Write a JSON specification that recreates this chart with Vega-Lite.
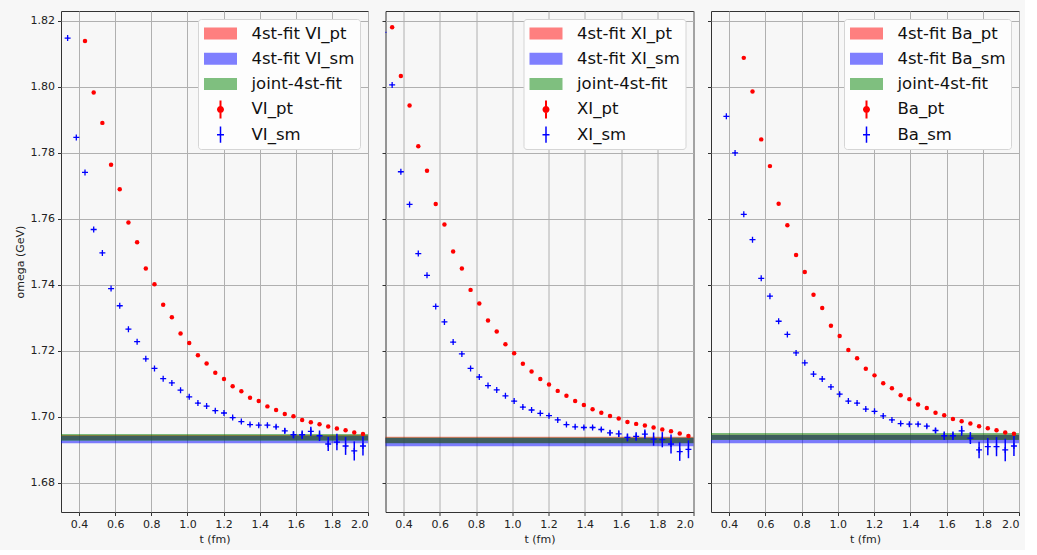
{
"$schema": "https://vega.github.io/schema/vega-lite/v6.json",
"background": "#f7f7f7",
"padding": {"left": 13, "top": 10, "right": 5, "bottom": 5},
"config": {
  "font": "DejaVu Sans",
  "view": {"stroke": "#333333", "strokeWidth": 1, "fill": "#f7f7f7"},
  "axis": {"labelFont": "DejaVu Sans", "labelFontSize": 11, "labelColor": "#222222", "titleFont": "DejaVu Sans", "titleFontSize": 11, "titleFontWeight": "normal", "titleColor": "#222222", "tickColor": "#333333", "tickSize": 3.5, "tickWidth": 1, "gridColor": "#b0b0b0", "gridWidth": 1, "gridOpacity": 1, "domain": false, "labelPadding": 3, "labelOverlap": false},
  "legend": {"labelFont": "DejaVu Sans", "labelFontSize": 16.5, "labelColor": "#111111", "symbolSize": 324, "symbolStrokeWidth": 0, "symbolOpacity": 1, "symbolOffset": 8, "labelOffset": 22, "rowPadding": 7.3, "padding": 5.5, "fillColor": "#fdfdfd", "strokeColor": "#d5d5d5", "cornerRadius": 3, "orient": "top-right", "offset": 8, "labelLimit": 300}
},
"datasets": {
  "bands": [
    {"panel": "VI", "series": "4st-fit VI_pt", "lo": 1.6929, "hi": 1.6944},
    {"panel": "VI", "series": "4st-fit VI_sm", "lo": 1.6919, "hi": 1.6941},
    {"panel": "VI", "series": "joint-4st-fit", "lo": 1.6927, "hi": 1.6947},
    {"panel": "XI", "series": "4st-fit XI_pt", "lo": 1.6920, "hi": 1.6939},
    {"panel": "XI", "series": "4st-fit XI_sm", "lo": 1.6910, "hi": 1.6935},
    {"panel": "XI", "series": "joint-4st-fit", "lo": 1.6919, "hi": 1.6937},
    {"panel": "Ba", "series": "4st-fit Ba_pt", "lo": 1.6930, "hi": 1.6945},
    {"panel": "Ba", "series": "4st-fit Ba_sm", "lo": 1.6919, "hi": 1.6944},
    {"panel": "Ba", "series": "joint-4st-fit", "lo": 1.6929, "hi": 1.6950}
  ],
  "points": [
    {"panel":"VI","series":"VI_pt","t":0.4329,"omega":1.8138,"err":0.0001},
    {"panel":"VI","series":"VI_pt","t":0.4810,"omega":1.7982,"err":0.0001},
    {"panel":"VI","series":"VI_pt","t":0.5291,"omega":1.7890,"err":0.0001},
    {"panel":"VI","series":"VI_pt","t":0.5772,"omega":1.7763,"err":0.0001},
    {"panel":"VI","series":"VI_pt","t":0.6253,"omega":1.7689,"err":0.0001},
    {"panel":"VI","series":"VI_pt","t":0.6734,"omega":1.7588,"err":0.0001},
    {"panel":"VI","series":"VI_pt","t":0.7215,"omega":1.7528,"err":0.0001},
    {"panel":"VI","series":"VI_pt","t":0.7696,"omega":1.7449,"err":0.0001},
    {"panel":"VI","series":"VI_pt","t":0.8177,"omega":1.7401,"err":0.0001},
    {"panel":"VI","series":"VI_pt","t":0.8658,"omega":1.7339,"err":0.0001},
    {"panel":"VI","series":"VI_pt","t":0.9139,"omega":1.7301,"err":0.0001},
    {"panel":"VI","series":"VI_pt","t":0.9620,"omega":1.7252,"err":0.0001},
    {"panel":"VI","series":"VI_pt","t":1.0101,"omega":1.7223,"err":0.0001},
    {"panel":"VI","series":"VI_pt","t":1.0582,"omega":1.7186,"err":0.0001},
    {"panel":"VI","series":"VI_pt","t":1.1063,"omega":1.7161,"err":0.0001},
    {"panel":"VI","series":"VI_pt","t":1.1544,"omega":1.7133,"err":0.0001},
    {"panel":"VI","series":"VI_pt","t":1.2025,"omega":1.7114,"err":0.0001},
    {"panel":"VI","series":"VI_pt","t":1.2506,"omega":1.7092,"err":0.0001},
    {"panel":"VI","series":"VI_pt","t":1.2987,"omega":1.7077,"err":0.0001},
    {"panel":"VI","series":"VI_pt","t":1.3468,"omega":1.7057,"err":0.0001},
    {"panel":"VI","series":"VI_pt","t":1.3949,"omega":1.7047,"err":0.0001},
    {"panel":"VI","series":"VI_pt","t":1.4430,"omega":1.7031,"err":0.0002},
    {"panel":"VI","series":"VI_pt","t":1.4911,"omega":1.7020,"err":0.0002},
    {"panel":"VI","series":"VI_pt","t":1.5392,"omega":1.7008,"err":0.0002},
    {"panel":"VI","series":"VI_pt","t":1.5873,"omega":1.7001,"err":0.0002},
    {"panel":"VI","series":"VI_pt","t":1.6354,"omega":1.6990,"err":0.0002},
    {"panel":"VI","series":"VI_pt","t":1.6835,"omega":1.6983,"err":0.0002},
    {"panel":"VI","series":"VI_pt","t":1.7316,"omega":1.6977,"err":0.0003},
    {"panel":"VI","series":"VI_pt","t":1.7797,"omega":1.6970,"err":0.0003},
    {"panel":"VI","series":"VI_pt","t":1.8278,"omega":1.6964,"err":0.0003},
    {"panel":"VI","series":"VI_pt","t":1.8759,"omega":1.6959,"err":0.0003},
    {"panel":"VI","series":"VI_pt","t":1.9240,"omega":1.6952,"err":0.0003},
    {"panel":"VI","series":"VI_pt","t":1.9721,"omega":1.6947,"err":0.0003},
    {"panel":"VI","series":"VI_sm","t":0.3367,"omega":1.8147,"err":0.0002},
    {"panel":"VI","series":"VI_sm","t":0.3848,"omega":1.7846,"err":0.0002},
    {"panel":"VI","series":"VI_sm","t":0.4329,"omega":1.7740,"err":0.0002},
    {"panel":"VI","series":"VI_sm","t":0.4810,"omega":1.7567,"err":0.0002},
    {"panel":"VI","series":"VI_sm","t":0.5291,"omega":1.7496,"err":0.0002},
    {"panel":"VI","series":"VI_sm","t":0.5772,"omega":1.7388,"err":0.0002},
    {"panel":"VI","series":"VI_sm","t":0.6253,"omega":1.7336,"err":0.0002},
    {"panel":"VI","series":"VI_sm","t":0.6734,"omega":1.7265,"err":0.0002},
    {"panel":"VI","series":"VI_sm","t":0.7215,"omega":1.7227,"err":0.0002},
    {"panel":"VI","series":"VI_sm","t":0.7696,"omega":1.7175,"err":0.0002},
    {"panel":"VI","series":"VI_sm","t":0.8177,"omega":1.7146,"err":0.0002},
    {"panel":"VI","series":"VI_sm","t":0.8658,"omega":1.7115,"err":0.0002},
    {"panel":"VI","series":"VI_sm","t":0.9139,"omega":1.7102,"err":0.0002},
    {"panel":"VI","series":"VI_sm","t":0.9620,"omega":1.7080,"err":0.0002},
    {"panel":"VI","series":"VI_sm","t":1.0101,"omega":1.7060,"err":0.0003},
    {"panel":"VI","series":"VI_sm","t":1.0582,"omega":1.7041,"err":0.0003},
    {"panel":"VI","series":"VI_sm","t":1.1063,"omega":1.7032,"err":0.0003},
    {"panel":"VI","series":"VI_sm","t":1.1544,"omega":1.7018,"err":0.0003},
    {"panel":"VI","series":"VI_sm","t":1.2025,"omega":1.7011,"err":0.0003},
    {"panel":"VI","series":"VI_sm","t":1.2506,"omega":1.6997,"err":0.0003},
    {"panel":"VI","series":"VI_sm","t":1.2987,"omega":1.6985,"err":0.0003},
    {"panel":"VI","series":"VI_sm","t":1.3468,"omega":1.6976,"err":0.0003},
    {"panel":"VI","series":"VI_sm","t":1.3949,"omega":1.6974,"err":0.0004},
    {"panel":"VI","series":"VI_sm","t":1.4430,"omega":1.6974,"err":0.0004},
    {"panel":"VI","series":"VI_sm","t":1.4911,"omega":1.6969,"err":0.0005},
    {"panel":"VI","series":"VI_sm","t":1.5392,"omega":1.6957,"err":0.0008},
    {"panel":"VI","series":"VI_sm","t":1.5873,"omega":1.6945,"err":0.0011},
    {"panel":"VI","series":"VI_sm","t":1.6354,"omega":1.6945,"err":0.0013},
    {"panel":"VI","series":"VI_sm","t":1.6835,"omega":1.6955,"err":0.0014},
    {"panel":"VI","series":"VI_sm","t":1.7316,"omega":1.6942,"err":0.0016},
    {"panel":"VI","series":"VI_sm","t":1.7797,"omega":1.6917,"err":0.0021},
    {"panel":"VI","series":"VI_sm","t":1.8278,"omega":1.6923,"err":0.0025},
    {"panel":"VI","series":"VI_sm","t":1.8759,"omega":1.6911,"err":0.0027},
    {"panel":"VI","series":"VI_sm","t":1.9240,"omega":1.6896,"err":0.0029},
    {"panel":"VI","series":"VI_sm","t":1.9721,"omega":1.6911,"err":0.0029},
    {"panel":"XI","series":"XI_pt","t":0.3367,"omega":1.8180,"err":0.0001},
    {"panel":"XI","series":"XI_pt","t":0.3848,"omega":1.8032,"err":0.0001},
    {"panel":"XI","series":"XI_pt","t":0.4329,"omega":1.7943,"err":0.0001},
    {"panel":"XI","series":"XI_pt","t":0.4810,"omega":1.7819,"err":0.0001},
    {"panel":"XI","series":"XI_pt","t":0.5291,"omega":1.7745,"err":0.0001},
    {"panel":"XI","series":"XI_pt","t":0.5772,"omega":1.7644,"err":0.0001},
    {"panel":"XI","series":"XI_pt","t":0.6253,"omega":1.7582,"err":0.0001},
    {"panel":"XI","series":"XI_pt","t":0.6734,"omega":1.7500,"err":0.0001},
    {"panel":"XI","series":"XI_pt","t":0.7215,"omega":1.7449,"err":0.0001},
    {"panel":"XI","series":"XI_pt","t":0.7696,"omega":1.7384,"err":0.0001},
    {"panel":"XI","series":"XI_pt","t":0.8177,"omega":1.7343,"err":0.0001},
    {"panel":"XI","series":"XI_pt","t":0.8658,"omega":1.7291,"err":0.0001},
    {"panel":"XI","series":"XI_pt","t":0.9139,"omega":1.7258,"err":0.0001},
    {"panel":"XI","series":"XI_pt","t":0.9620,"omega":1.7219,"err":0.0001},
    {"panel":"XI","series":"XI_pt","t":1.0101,"omega":1.7192,"err":0.0001},
    {"panel":"XI","series":"XI_pt","t":1.0582,"omega":1.7160,"err":0.0001},
    {"panel":"XI","series":"XI_pt","t":1.1063,"omega":1.7137,"err":0.0001},
    {"panel":"XI","series":"XI_pt","t":1.1544,"omega":1.7114,"err":0.0001},
    {"panel":"XI","series":"XI_pt","t":1.2025,"omega":1.7097,"err":0.0001},
    {"panel":"XI","series":"XI_pt","t":1.2506,"omega":1.7078,"err":0.0001},
    {"panel":"XI","series":"XI_pt","t":1.2987,"omega":1.7063,"err":0.0001},
    {"panel":"XI","series":"XI_pt","t":1.3468,"omega":1.7047,"err":0.0001},
    {"panel":"XI","series":"XI_pt","t":1.3949,"omega":1.7035,"err":0.0001},
    {"panel":"XI","series":"XI_pt","t":1.4430,"omega":1.7022,"err":0.0002},
    {"panel":"XI","series":"XI_pt","t":1.4911,"omega":1.7012,"err":0.0002},
    {"panel":"XI","series":"XI_pt","t":1.5392,"omega":1.7002,"err":0.0002},
    {"panel":"XI","series":"XI_pt","t":1.5873,"omega":1.6994,"err":0.0002},
    {"panel":"XI","series":"XI_pt","t":1.6354,"omega":1.6984,"err":0.0002},
    {"panel":"XI","series":"XI_pt","t":1.6835,"omega":1.6978,"err":0.0002},
    {"panel":"XI","series":"XI_pt","t":1.7316,"omega":1.6973,"err":0.0003},
    {"panel":"XI","series":"XI_pt","t":1.7797,"omega":1.6967,"err":0.0003},
    {"panel":"XI","series":"XI_pt","t":1.8278,"omega":1.6961,"err":0.0003},
    {"panel":"XI","series":"XI_pt","t":1.8759,"omega":1.6956,"err":0.0003},
    {"panel":"XI","series":"XI_pt","t":1.9240,"omega":1.6949,"err":0.0003},
    {"panel":"XI","series":"XI_pt","t":1.9721,"omega":1.6941,"err":0.0004},
    {"panel":"XI","series":"XI_sm","t":0.2886,"omega":1.8164,"err":0.0002},
    {"panel":"XI","series":"XI_sm","t":0.3367,"omega":1.8005,"err":0.0002},
    {"panel":"XI","series":"XI_sm","t":0.3848,"omega":1.7742,"err":0.0002},
    {"panel":"XI","series":"XI_sm","t":0.4329,"omega":1.7643,"err":0.0002},
    {"panel":"XI","series":"XI_sm","t":0.4810,"omega":1.7494,"err":0.0002},
    {"panel":"XI","series":"XI_sm","t":0.5291,"omega":1.7428,"err":0.0002},
    {"panel":"XI","series":"XI_sm","t":0.5772,"omega":1.7334,"err":0.0002},
    {"panel":"XI","series":"XI_sm","t":0.6253,"omega":1.7287,"err":0.0002},
    {"panel":"XI","series":"XI_sm","t":0.6734,"omega":1.7226,"err":0.0002},
    {"panel":"XI","series":"XI_sm","t":0.7215,"omega":1.7190,"err":0.0002},
    {"panel":"XI","series":"XI_sm","t":0.7696,"omega":1.7146,"err":0.0002},
    {"panel":"XI","series":"XI_sm","t":0.8177,"omega":1.7120,"err":0.0002},
    {"panel":"XI","series":"XI_sm","t":0.8658,"omega":1.7094,"err":0.0002},
    {"panel":"XI","series":"XI_sm","t":0.9139,"omega":1.7081,"err":0.0002},
    {"panel":"XI","series":"XI_sm","t":0.9620,"omega":1.7063,"err":0.0002},
    {"panel":"XI","series":"XI_sm","t":1.0101,"omega":1.7047,"err":0.0003},
    {"panel":"XI","series":"XI_sm","t":1.0582,"omega":1.7029,"err":0.0003},
    {"panel":"XI","series":"XI_sm","t":1.1063,"omega":1.7020,"err":0.0003},
    {"panel":"XI","series":"XI_sm","t":1.1544,"omega":1.7010,"err":0.0003},
    {"panel":"XI","series":"XI_sm","t":1.2025,"omega":1.7003,"err":0.0003},
    {"panel":"XI","series":"XI_sm","t":1.2506,"omega":1.6990,"err":0.0003},
    {"panel":"XI","series":"XI_sm","t":1.2987,"omega":1.6976,"err":0.0003},
    {"panel":"XI","series":"XI_sm","t":1.3468,"omega":1.6969,"err":0.0003},
    {"panel":"XI","series":"XI_sm","t":1.3949,"omega":1.6967,"err":0.0004},
    {"panel":"XI","series":"XI_sm","t":1.4430,"omega":1.6967,"err":0.0004},
    {"panel":"XI","series":"XI_sm","t":1.4911,"omega":1.6961,"err":0.0005},
    {"panel":"XI","series":"XI_sm","t":1.5392,"omega":1.6951,"err":0.0008},
    {"panel":"XI","series":"XI_sm","t":1.5873,"omega":1.6948,"err":0.0010},
    {"panel":"XI","series":"XI_sm","t":1.6354,"omega":1.6937,"err":0.0012},
    {"panel":"XI","series":"XI_sm","t":1.6835,"omega":1.6940,"err":0.0013},
    {"panel":"XI","series":"XI_sm","t":1.7316,"omega":1.6947,"err":0.0014},
    {"panel":"XI","series":"XI_sm","t":1.7797,"omega":1.6932,"err":0.0020},
    {"panel":"XI","series":"XI_sm","t":1.8278,"omega":1.6930,"err":0.0023},
    {"panel":"XI","series":"XI_sm","t":1.8759,"omega":1.6917,"err":0.0029},
    {"panel":"XI","series":"XI_sm","t":1.9240,"omega":1.6894,"err":0.0028},
    {"panel":"XI","series":"XI_sm","t":1.9721,"omega":1.6901,"err":0.0027},
    {"panel":"Ba","series":"Ba_pt","t":0.4810,"omega":1.8087,"err":0.0001},
    {"panel":"Ba","series":"Ba_pt","t":0.5291,"omega":1.7985,"err":0.0001},
    {"panel":"Ba","series":"Ba_pt","t":0.5772,"omega":1.7840,"err":0.0001},
    {"panel":"Ba","series":"Ba_pt","t":0.6253,"omega":1.7759,"err":0.0001},
    {"panel":"Ba","series":"Ba_pt","t":0.6734,"omega":1.7645,"err":0.0001},
    {"panel":"Ba","series":"Ba_pt","t":0.7215,"omega":1.7580,"err":0.0001},
    {"panel":"Ba","series":"Ba_pt","t":0.7696,"omega":1.7490,"err":0.0001},
    {"panel":"Ba","series":"Ba_pt","t":0.8177,"omega":1.7438,"err":0.0001},
    {"panel":"Ba","series":"Ba_pt","t":0.8658,"omega":1.7369,"err":0.0001},
    {"panel":"Ba","series":"Ba_pt","t":0.9139,"omega":1.7329,"err":0.0001},
    {"panel":"Ba","series":"Ba_pt","t":0.9620,"omega":1.7275,"err":0.0001},
    {"panel":"Ba","series":"Ba_pt","t":1.0101,"omega":1.7244,"err":0.0001},
    {"panel":"Ba","series":"Ba_pt","t":1.0582,"omega":1.7202,"err":0.0001},
    {"panel":"Ba","series":"Ba_pt","t":1.1063,"omega":1.7177,"err":0.0001},
    {"panel":"Ba","series":"Ba_pt","t":1.1544,"omega":1.7145,"err":0.0001},
    {"panel":"Ba","series":"Ba_pt","t":1.2025,"omega":1.7125,"err":0.0001},
    {"panel":"Ba","series":"Ba_pt","t":1.2506,"omega":1.7101,"err":0.0001},
    {"panel":"Ba","series":"Ba_pt","t":1.2987,"omega":1.7086,"err":0.0001},
    {"panel":"Ba","series":"Ba_pt","t":1.3468,"omega":1.7065,"err":0.0001},
    {"panel":"Ba","series":"Ba_pt","t":1.3949,"omega":1.7053,"err":0.0001},
    {"panel":"Ba","series":"Ba_pt","t":1.4430,"omega":1.7037,"err":0.0002},
    {"panel":"Ba","series":"Ba_pt","t":1.4911,"omega":1.7026,"err":0.0002},
    {"panel":"Ba","series":"Ba_pt","t":1.5392,"omega":1.7012,"err":0.0002},
    {"panel":"Ba","series":"Ba_pt","t":1.5873,"omega":1.7004,"err":0.0002},
    {"panel":"Ba","series":"Ba_pt","t":1.6354,"omega":1.6993,"err":0.0002},
    {"panel":"Ba","series":"Ba_pt","t":1.6835,"omega":1.6986,"err":0.0002},
    {"panel":"Ba","series":"Ba_pt","t":1.7316,"omega":1.6979,"err":0.0003},
    {"panel":"Ba","series":"Ba_pt","t":1.7797,"omega":1.6971,"err":0.0003},
    {"panel":"Ba","series":"Ba_pt","t":1.8278,"omega":1.6965,"err":0.0003},
    {"panel":"Ba","series":"Ba_pt","t":1.8759,"omega":1.6959,"err":0.0003},
    {"panel":"Ba","series":"Ba_pt","t":1.9240,"omega":1.6952,"err":0.0003},
    {"panel":"Ba","series":"Ba_pt","t":1.9721,"omega":1.6948,"err":0.0004},
    {"panel":"Ba","series":"Ba_sm","t":0.3848,"omega":1.7910,"err":0.0002},
    {"panel":"Ba","series":"Ba_sm","t":0.4329,"omega":1.7799,"err":0.0002},
    {"panel":"Ba","series":"Ba_sm","t":0.4810,"omega":1.7613,"err":0.0002},
    {"panel":"Ba","series":"Ba_sm","t":0.5291,"omega":1.7536,"err":0.0002},
    {"panel":"Ba","series":"Ba_sm","t":0.5772,"omega":1.7419,"err":0.0002},
    {"panel":"Ba","series":"Ba_sm","t":0.6253,"omega":1.7365,"err":0.0002},
    {"panel":"Ba","series":"Ba_sm","t":0.6734,"omega":1.7289,"err":0.0002},
    {"panel":"Ba","series":"Ba_sm","t":0.7215,"omega":1.7249,"err":0.0002},
    {"panel":"Ba","series":"Ba_sm","t":0.7696,"omega":1.7193,"err":0.0002},
    {"panel":"Ba","series":"Ba_sm","t":0.8177,"omega":1.7163,"err":0.0002},
    {"panel":"Ba","series":"Ba_sm","t":0.8658,"omega":1.7129,"err":0.0002},
    {"panel":"Ba","series":"Ba_sm","t":0.9139,"omega":1.7114,"err":0.0002},
    {"panel":"Ba","series":"Ba_sm","t":0.9620,"omega":1.7090,"err":0.0002},
    {"panel":"Ba","series":"Ba_sm","t":1.0101,"omega":1.7068,"err":0.0003},
    {"panel":"Ba","series":"Ba_sm","t":1.0582,"omega":1.7047,"err":0.0003},
    {"panel":"Ba","series":"Ba_sm","t":1.1063,"omega":1.7041,"err":0.0003},
    {"panel":"Ba","series":"Ba_sm","t":1.1544,"omega":1.7023,"err":0.0003},
    {"panel":"Ba","series":"Ba_sm","t":1.2025,"omega":1.7016,"err":0.0003},
    {"panel":"Ba","series":"Ba_sm","t":1.2506,"omega":1.7002,"err":0.0003},
    {"panel":"Ba","series":"Ba_sm","t":1.2987,"omega":1.6990,"err":0.0003},
    {"panel":"Ba","series":"Ba_sm","t":1.3468,"omega":1.6979,"err":0.0003},
    {"panel":"Ba","series":"Ba_sm","t":1.3949,"omega":1.6977,"err":0.0004},
    {"panel":"Ba","series":"Ba_sm","t":1.4430,"omega":1.6977,"err":0.0004},
    {"panel":"Ba","series":"Ba_sm","t":1.4911,"omega":1.6971,"err":0.0005},
    {"panel":"Ba","series":"Ba_sm","t":1.5392,"omega":1.6958,"err":0.0008},
    {"panel":"Ba","series":"Ba_sm","t":1.5873,"omega":1.6942,"err":0.0013},
    {"panel":"Ba","series":"Ba_sm","t":1.6354,"omega":1.6942,"err":0.0013},
    {"panel":"Ba","series":"Ba_sm","t":1.6835,"omega":1.6957,"err":0.0015},
    {"panel":"Ba","series":"Ba_sm","t":1.7316,"omega":1.6935,"err":0.0018},
    {"panel":"Ba","series":"Ba_sm","t":1.7797,"omega":1.6899,"err":0.0025},
    {"panel":"Ba","series":"Ba_sm","t":1.8278,"omega":1.6909,"err":0.0026},
    {"panel":"Ba","series":"Ba_sm","t":1.8759,"omega":1.6909,"err":0.0029},
    {"panel":"Ba","series":"Ba_sm","t":1.9240,"omega":1.6899,"err":0.0034},
    {"panel":"Ba","series":"Ba_sm","t":1.9721,"omega":1.6911,"err":0.0030}
  ]
},
"bounds": "flush",
"spacing": 17.5,
"resolve": {"scale": {"x": "independent", "y": "independent", "color": "independent", "shape": "independent", "fill": "independent"}, "legend": {"color": "independent", "shape": "independent"}},
"hconcat": [
  {
    "width": 307, "height": 501,
    "layer": [
      {"data": {"name": "bands"}, "transform": [{"filter": "datum.panel == 'VI'"}],
       "mark": {"type": "rect", "opacity": 0.5},
       "encoding": {
         "y": {"field": "lo", "type": "quantitative", "title": "omega (GeV)", "scale": {"domain": [1.6711, 1.8229], "nice": false, "zero": false}, "axis": {"values": [1.68, 1.70, 1.72, 1.74, 1.76, 1.78, 1.80, 1.82], "format": ".2f", "titlePadding": 5, "labelOverlap": false}},
         "y2": {"field": "hi"},
         "fill": {"field": "series", "type": "nominal", "scale": {"domain": ["4st-fit VI_pt", "4st-fit VI_sm", "joint-4st-fit"], "range": ["#ff0000", "#0000ff", "#008000"]}, "legend": null}
       }},
      {"data": {"name": "points"}, "transform": [{"filter": "datum.panel == 'VI' && datum.series == 'VI_pt'"}],
       "mark": {"type": "errorbar", "color": "#ff0000", "thickness": 1.5},
       "encoding": {
         "x": {"field": "t", "type": "quantitative", "title": "t (fm)", "scale": {"domain": [0.3, 2.0], "nice": false, "zero": false}, "axis": {"values": [0.4, 0.6, 0.8, 1.0, 1.2, 1.4, 1.6, 1.8, 2.0], "format": ".1f", "titlePadding": 4, "labelOverlap": false}},
         "y": {"field": "omega", "type": "quantitative", "title": "omega (GeV)", "axis": {"values": [1.68, 1.70, 1.72, 1.74, 1.76, 1.78, 1.80, 1.82], "format": ".2f", "titlePadding": 5, "labelOverlap": false}},
         "yError": {"field": "err"}
       }},
      {"data": {"name": "points"}, "transform": [{"filter": "datum.panel == 'VI' && datum.series == 'VI_pt'"}],
       "mark": {"type": "point", "shape": "circle", "filled": true, "color": "#ff0000", "size": 20, "opacity": 1, "clip": true},
       "encoding": {
         "x": {"field": "t", "type": "quantitative", "title": "t (fm)", "axis": {"values": [0.4, 0.6, 0.8, 1.0, 1.2, 1.4, 1.6, 1.8, 2.0], "format": ".1f", "titlePadding": 4, "labelOverlap": false}},
         "y": {"field": "omega", "type": "quantitative", "title": "omega (GeV)", "axis": {"values": [1.68, 1.70, 1.72, 1.74, 1.76, 1.78, 1.80, 1.82], "format": ".2f", "titlePadding": 5, "labelOverlap": false}}
       }},
      {"data": {"name": "points"}, "transform": [{"filter": "datum.panel == 'VI' && datum.series == 'VI_sm'"}],
       "mark": {"type": "errorbar", "color": "#0000ff", "thickness": 1.5},
       "encoding": {
         "x": {"field": "t", "type": "quantitative", "title": "t (fm)", "axis": {"values": [0.4, 0.6, 0.8, 1.0, 1.2, 1.4, 1.6, 1.8, 2.0], "format": ".1f", "titlePadding": 4, "labelOverlap": false}},
         "y": {"field": "omega", "type": "quantitative", "title": "omega (GeV)", "axis": {"values": [1.68, 1.70, 1.72, 1.74, 1.76, 1.78, 1.80, 1.82], "format": ".2f", "titlePadding": 5, "labelOverlap": false}},
         "yError": {"field": "err"}
       }},
      {"data": {"name": "points"}, "transform": [{"filter": "datum.panel == 'VI' && datum.series == 'VI_sm'"}],
       "mark": {"type": "point", "shape": "M-1,0H1M0,-1V1", "filled": false, "color": "#0000ff", "size": 36, "strokeWidth": 1.3, "opacity": 1, "clip": true},
       "encoding": {
         "x": {"field": "t", "type": "quantitative", "title": "t (fm)", "axis": {"values": [0.4, 0.6, 0.8, 1.0, 1.2, 1.4, 1.6, 1.8, 2.0], "format": ".1f", "titlePadding": 4, "labelOverlap": false}},
         "y": {"field": "omega", "type": "quantitative", "title": "omega (GeV)", "axis": {"values": [1.68, 1.70, 1.72, 1.74, 1.76, 1.78, 1.80, 1.82], "format": ".2f", "titlePadding": 5, "labelOverlap": false}}
       }},
      {"data": {"name": "points"}, "transform": [{"filter": "datum.panel == 'VI'"}],
       "mark": {"type": "point", "filled": true, "opacity": 0},
       "encoding": {
         "color": {"field": "series", "type": "nominal", "scale": {"domain": ["4st-fit VI_pt", "4st-fit VI_sm", "joint-4st-fit", "VI_pt", "VI_sm"], "range": ["#fe7f7f", "#7f7ffe", "#7fbf7f", "#ff0000", "#0000ff"]}, "legend": {"title": null}},
         "shape": {"field": "series", "type": "nominal", "scale": {"domain": ["4st-fit VI_pt", "4st-fit VI_sm", "joint-4st-fit", "VI_pt", "VI_sm"], "range": ["M-1.833,-0.667H1.833V0.667H-1.833Z", "M-1.833,-0.667H1.833V0.667H-1.833Z", "M-1.833,-0.667H1.833V0.667H-1.833Z", "M-0.111,-1H0.111V1H-0.111Z M-0.389,0A0.389,0.389,0,1,1,0.389,0A0.389,0.389,0,1,1,-0.389,0Z", "M-0.083,-0.9H0.083V0.9H-0.083Z M-0.389,-0.083H0.389V0.083H-0.389Z"]}, "legend": {"title": null}}
       }}
    ]
  },
  {
    "width": 308, "height": 501,
    "layer": [
      {"data": {"name": "bands"}, "transform": [{"filter": "datum.panel == 'XI'"}],
       "mark": {"type": "rect", "opacity": 0.5},
       "encoding": {
         "y": {"field": "lo", "type": "quantitative", "title": null, "scale": {"domain": [1.6711, 1.8229], "nice": false, "zero": false}, "axis": {"values": [1.68, 1.70, 1.72, 1.74, 1.76, 1.78, 1.80, 1.82], "labels": false}},
         "y2": {"field": "hi"},
         "fill": {"field": "series", "type": "nominal", "scale": {"domain": ["4st-fit XI_pt", "4st-fit XI_sm", "joint-4st-fit"], "range": ["#ff0000", "#0000ff", "#008000"]}, "legend": null}
       }},
      {"data": {"name": "points"}, "transform": [{"filter": "datum.panel == 'XI' && datum.series == 'XI_pt'"}],
       "mark": {"type": "errorbar", "color": "#ff0000", "thickness": 1.5},
       "encoding": {
         "x": {"field": "t", "type": "quantitative", "title": "t (fm)", "scale": {"domain": [0.3, 2.0], "nice": false, "zero": false}, "axis": {"values": [0.4, 0.6, 0.8, 1.0, 1.2, 1.4, 1.6, 1.8, 2.0], "format": ".1f", "titlePadding": 4, "labelOverlap": false}},
         "y": {"field": "omega", "type": "quantitative", "title": null, "axis": {"values": [1.68, 1.70, 1.72, 1.74, 1.76, 1.78, 1.80, 1.82], "labels": false}},
         "yError": {"field": "err"}
       }},
      {"data": {"name": "points"}, "transform": [{"filter": "datum.panel == 'XI' && datum.series == 'XI_pt'"}],
       "mark": {"type": "point", "shape": "circle", "filled": true, "color": "#ff0000", "size": 20, "opacity": 1, "clip": true},
       "encoding": {
         "x": {"field": "t", "type": "quantitative", "title": "t (fm)", "axis": {"values": [0.4, 0.6, 0.8, 1.0, 1.2, 1.4, 1.6, 1.8, 2.0], "format": ".1f", "titlePadding": 4, "labelOverlap": false}},
         "y": {"field": "omega", "type": "quantitative", "title": null, "axis": {"values": [1.68, 1.70, 1.72, 1.74, 1.76, 1.78, 1.80, 1.82], "labels": false}}
       }},
      {"data": {"name": "points"}, "transform": [{"filter": "datum.panel == 'XI' && datum.series == 'XI_sm' && datum.t > 0.3"}],
       "mark": {"type": "errorbar", "color": "#0000ff", "thickness": 1.5},
       "encoding": {
         "x": {"field": "t", "type": "quantitative", "title": "t (fm)", "axis": {"values": [0.4, 0.6, 0.8, 1.0, 1.2, 1.4, 1.6, 1.8, 2.0], "format": ".1f", "titlePadding": 4, "labelOverlap": false}},
         "y": {"field": "omega", "type": "quantitative", "title": null, "axis": {"values": [1.68, 1.70, 1.72, 1.74, 1.76, 1.78, 1.80, 1.82], "labels": false}},
         "yError": {"field": "err"}
       }},
      {"data": {"name": "points"}, "transform": [{"filter": "datum.panel == 'XI' && datum.series == 'XI_sm'"}],
       "mark": {"type": "point", "shape": "M-1,0H1M0,-1V1", "filled": false, "color": "#0000ff", "size": 36, "strokeWidth": 1.3, "opacity": 1, "clip": true},
       "encoding": {
         "x": {"field": "t", "type": "quantitative", "title": "t (fm)", "axis": {"values": [0.4, 0.6, 0.8, 1.0, 1.2, 1.4, 1.6, 1.8, 2.0], "format": ".1f", "titlePadding": 4, "labelOverlap": false}},
         "y": {"field": "omega", "type": "quantitative", "title": null, "axis": {"values": [1.68, 1.70, 1.72, 1.74, 1.76, 1.78, 1.80, 1.82], "labels": false}}
       }},
      {"data": {"name": "points"}, "transform": [{"filter": "datum.panel == 'XI'"}],
       "mark": {"type": "point", "filled": true, "opacity": 0},
       "encoding": {
         "color": {"field": "series", "type": "nominal", "scale": {"domain": ["4st-fit XI_pt", "4st-fit XI_sm", "joint-4st-fit", "XI_pt", "XI_sm"], "range": ["#fe7f7f", "#7f7ffe", "#7fbf7f", "#ff0000", "#0000ff"]}, "legend": {"title": null}},
         "shape": {"field": "series", "type": "nominal", "scale": {"domain": ["4st-fit XI_pt", "4st-fit XI_sm", "joint-4st-fit", "XI_pt", "XI_sm"], "range": ["M-1.833,-0.667H1.833V0.667H-1.833Z", "M-1.833,-0.667H1.833V0.667H-1.833Z", "M-1.833,-0.667H1.833V0.667H-1.833Z", "M-0.111,-1H0.111V1H-0.111Z M-0.389,0A0.389,0.389,0,1,1,0.389,0A0.389,0.389,0,1,1,-0.389,0Z", "M-0.083,-0.9H0.083V0.9H-0.083Z M-0.389,-0.083H0.389V0.083H-0.389Z"]}, "legend": {"title": null}}
       }}
    ]
  },
  {
    "width": 308, "height": 501,
    "layer": [
      {"data": {"name": "bands"}, "transform": [{"filter": "datum.panel == 'Ba'"}],
       "mark": {"type": "rect", "opacity": 0.5},
       "encoding": {
         "y": {"field": "lo", "type": "quantitative", "title": null, "scale": {"domain": [1.6711, 1.8229], "nice": false, "zero": false}, "axis": {"values": [1.68, 1.70, 1.72, 1.74, 1.76, 1.78, 1.80, 1.82], "labels": false}},
         "y2": {"field": "hi"},
         "fill": {"field": "series", "type": "nominal", "scale": {"domain": ["4st-fit Ba_pt", "4st-fit Ba_sm", "joint-4st-fit"], "range": ["#ff0000", "#0000ff", "#008000"]}, "legend": null}
       }},
      {"data": {"name": "points"}, "transform": [{"filter": "datum.panel == 'Ba' && datum.series == 'Ba_pt'"}],
       "mark": {"type": "errorbar", "color": "#ff0000", "thickness": 1.5},
       "encoding": {
         "x": {"field": "t", "type": "quantitative", "title": "t (fm)", "scale": {"domain": [0.3, 2.0], "nice": false, "zero": false}, "axis": {"values": [0.4, 0.6, 0.8, 1.0, 1.2, 1.4, 1.6, 1.8, 2.0], "format": ".1f", "titlePadding": 4, "labelOverlap": false}},
         "y": {"field": "omega", "type": "quantitative", "title": null, "axis": {"values": [1.68, 1.70, 1.72, 1.74, 1.76, 1.78, 1.80, 1.82], "labels": false}},
         "yError": {"field": "err"}
       }},
      {"data": {"name": "points"}, "transform": [{"filter": "datum.panel == 'Ba' && datum.series == 'Ba_pt'"}],
       "mark": {"type": "point", "shape": "circle", "filled": true, "color": "#ff0000", "size": 20, "opacity": 1, "clip": true},
       "encoding": {
         "x": {"field": "t", "type": "quantitative", "title": "t (fm)", "axis": {"values": [0.4, 0.6, 0.8, 1.0, 1.2, 1.4, 1.6, 1.8, 2.0], "format": ".1f", "titlePadding": 4, "labelOverlap": false}},
         "y": {"field": "omega", "type": "quantitative", "title": null, "axis": {"values": [1.68, 1.70, 1.72, 1.74, 1.76, 1.78, 1.80, 1.82], "labels": false}}
       }},
      {"data": {"name": "points"}, "transform": [{"filter": "datum.panel == 'Ba' && datum.series == 'Ba_sm'"}],
       "mark": {"type": "errorbar", "color": "#0000ff", "thickness": 1.5},
       "encoding": {
         "x": {"field": "t", "type": "quantitative", "title": "t (fm)", "axis": {"values": [0.4, 0.6, 0.8, 1.0, 1.2, 1.4, 1.6, 1.8, 2.0], "format": ".1f", "titlePadding": 4, "labelOverlap": false}},
         "y": {"field": "omega", "type": "quantitative", "title": null, "axis": {"values": [1.68, 1.70, 1.72, 1.74, 1.76, 1.78, 1.80, 1.82], "labels": false}},
         "yError": {"field": "err"}
       }},
      {"data": {"name": "points"}, "transform": [{"filter": "datum.panel == 'Ba' && datum.series == 'Ba_sm'"}],
       "mark": {"type": "point", "shape": "M-1,0H1M0,-1V1", "filled": false, "color": "#0000ff", "size": 36, "strokeWidth": 1.3, "opacity": 1, "clip": true},
       "encoding": {
         "x": {"field": "t", "type": "quantitative", "title": "t (fm)", "axis": {"values": [0.4, 0.6, 0.8, 1.0, 1.2, 1.4, 1.6, 1.8, 2.0], "format": ".1f", "titlePadding": 4, "labelOverlap": false}},
         "y": {"field": "omega", "type": "quantitative", "title": null, "axis": {"values": [1.68, 1.70, 1.72, 1.74, 1.76, 1.78, 1.80, 1.82], "labels": false}}
       }},
      {"data": {"name": "points"}, "transform": [{"filter": "datum.panel == 'Ba'"}],
       "mark": {"type": "point", "filled": true, "opacity": 0},
       "encoding": {
         "color": {"field": "series", "type": "nominal", "scale": {"domain": ["4st-fit Ba_pt", "4st-fit Ba_sm", "joint-4st-fit", "Ba_pt", "Ba_sm"], "range": ["#fe7f7f", "#7f7ffe", "#7fbf7f", "#ff0000", "#0000ff"]}, "legend": {"title": null}},
         "shape": {"field": "series", "type": "nominal", "scale": {"domain": ["4st-fit Ba_pt", "4st-fit Ba_sm", "joint-4st-fit", "Ba_pt", "Ba_sm"], "range": ["M-1.833,-0.667H1.833V0.667H-1.833Z", "M-1.833,-0.667H1.833V0.667H-1.833Z", "M-1.833,-0.667H1.833V0.667H-1.833Z", "M-0.111,-1H0.111V1H-0.111Z M-0.389,0A0.389,0.389,0,1,1,0.389,0A0.389,0.389,0,1,1,-0.389,0Z", "M-0.083,-0.9H0.083V0.9H-0.083Z M-0.389,-0.083H0.389V0.083H-0.389Z"]}, "legend": {"title": null}}
       }}
    ]
  }
]
}
